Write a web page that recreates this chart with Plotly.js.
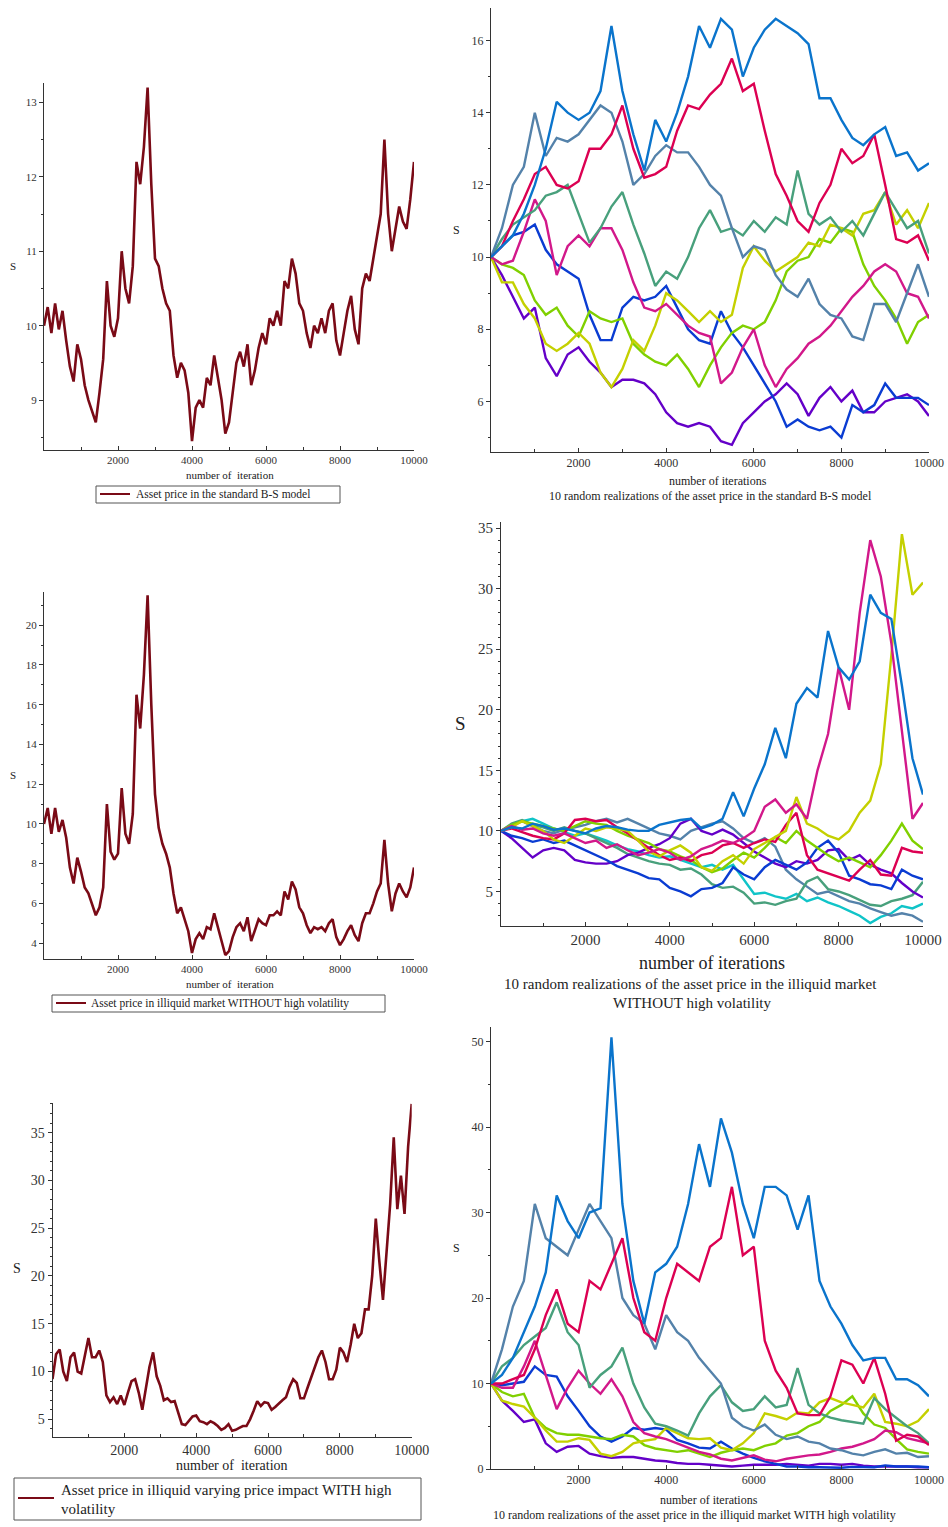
<!DOCTYPE html>
<html>
<head>
<meta charset="utf-8">
<script src="https://cdn.plot.ly/plotly-3.0.1.min.js"></script>
<style>
html,body{margin:0;padding:0;background:#fff;}
#chart{width:948px;height:1527px;}
</style>
</head>
<body>
<div id="chart"></div>
<script>
// ---------- iteration grids ----------
const iterFine = [0,100,200,300,400,500,600,700,800,900,1000,1100,1200,1300,1400,1500,1600,1700,1800,1900,
  2000,2100,2200,2300,2400,2500,2600,2700,2800,2900,3000,3100,3200,3300,3400,3500,3600,3700,3800,3900,
  4000,4100,4200,4300,4400,4500,4600,4700,4800,4900,5000,5100,5200,5300,5400,5500,5600,5700,5800,5900,
  6000,6100,6200,6300,6400,6500,6600,6700,6800,6900,7000,7100,7200,7300,7400,7500,7600,7700,7800,7900,
  8000,8100,8200,8300,8400,8500,8600,8700,8800,8900,9000,9100,9200,9300,9400,9500,9600,9700,9800,9900,10000];
const iterCoarse = [0,250,500,750,1000,1250,1500,1750,2000,2250,2500,2750,3000,3250,3500,3750,4000,4250,4500,4750,
  5000,5250,5500,5750,6000,6250,6500,6750,7000,7250,7500,7750,8000,8250,8500,8750,9000,9250,9500,9750,10000];
const xTickVals = [2000,4000,6000,8000,10000];
const xTickText = ['2000','4000','6000','8000','10000'];

// ---------- single paths (left column) ----------
const priceBS = [10.0,10.25,9.9,10.3,9.95,10.2,9.8,9.45,9.25,9.75,9.55,9.2,9.0,8.85,8.7,9.1,9.55,10.6,10.0,9.85,
  10.1,11.0,10.5,10.3,10.8,12.2,11.9,12.4,13.2,11.9,10.9,10.8,10.5,10.3,10.2,9.6,9.3,9.5,9.4,9.1,
  8.45,8.9,9.0,8.9,9.3,9.2,9.6,9.3,9.0,8.55,8.7,9.1,9.5,9.65,9.45,9.75,9.2,9.4,9.7,9.9,
  9.75,10.1,10.0,10.2,10.0,10.6,10.5,10.9,10.7,10.3,10.2,9.9,9.7,10.0,9.9,10.1,9.9,10.2,10.3,9.8,
  9.6,9.9,10.2,10.4,9.95,9.75,10.5,10.7,10.6,10.9,11.2,11.5,12.5,11.5,11.0,11.3,11.6,11.4,11.3,11.7,12.2];
const priceIlliquid = [10.0,10.8,9.5,10.8,9.6,10.2,9.3,7.8,7.0,8.3,7.6,6.8,6.5,6.0,5.4,5.8,6.8,11.0,8.6,8.2,
  8.5,11.8,9.5,9.0,10.5,16.5,14.8,17.5,21.5,16.0,11.5,9.8,9.0,8.5,7.8,6.5,5.5,5.8,5.2,4.6,
  3.5,4.2,4.5,4.2,4.8,4.7,5.5,4.8,4.0,3.4,3.6,4.3,4.8,5.0,4.6,5.3,4.1,4.6,5.2,5.0,
  4.9,5.4,5.4,5.6,5.4,6.6,6.2,7.1,6.7,5.8,5.5,4.9,4.5,4.8,4.7,4.8,4.6,5.0,5.2,4.3,
  3.9,4.2,4.6,4.9,4.4,4.1,5.0,5.5,5.5,6.0,6.6,7.0,9.2,7.0,5.6,6.5,7.0,6.6,6.3,6.8,7.8];
const priceHighVol = [9.2,11.8,12.3,10.0,9.0,11.5,12.0,10.0,9.8,11.8,13.5,11.5,11.5,12.2,11.0,7.5,6.8,7.3,6.6,7.5,
  6.5,7.8,9.0,9.2,7.8,6.0,8.3,10.5,12.0,9.5,8.5,7.0,7.2,6.8,6.9,5.8,4.5,4.4,4.8,5.3,
  5.4,4.8,4.7,4.5,4.8,4.6,4.3,3.9,4.1,4.5,3.8,3.9,4.1,4.3,4.3,5.0,5.9,6.9,6.4,6.8,
  6.7,6.0,6.3,6.6,7.0,7.3,8.4,9.2,8.8,7.2,7.2,8.3,9.3,10.4,11.5,12.2,11.0,9.2,9.2,10.2,
  12.5,12.0,11.0,12.8,15.0,13.5,14.0,16.5,16.5,20.0,26.0,21.5,17.5,22.5,27.5,34.5,27.0,30.5,26.5,33.5,38.0];

// ---------- 10 realizations, standard B-S ----------
const bsBlue    = [10.0,10.3,10.6,11.2,12.0,13.0,14.3,14.0,13.8,14.0,14.6,16.4,14.6,13.4,12.4,13.8,13.2,14.0,15.0,16.4,15.8,16.6,16.3,15.0,15.8,16.3,16.6,16.4,16.2,15.9,14.4,14.4,13.8,13.3,13.1,13.4,13.6,12.8,12.9,12.4,12.6];
const bsCrimson = [10.0,10.3,11.0,11.6,12.3,12.5,12.0,11.9,12.1,13.0,13.0,13.4,14.2,13.0,12.2,12.3,12.5,13.5,14.2,14.1,14.5,14.8,15.5,14.6,14.8,13.5,12.3,11.7,11.0,10.7,11.5,12.0,13.0,12.6,12.8,13.4,12.0,10.5,10.4,10.6,9.9];
const bsSteel   = [10.0,10.8,12.0,12.5,14.0,12.8,13.3,13.2,13.4,13.8,14.2,14.0,13.2,12.0,12.3,12.8,13.1,12.9,12.9,12.5,12.0,11.7,10.8,10.0,10.3,10.2,9.5,9.1,8.9,9.4,8.7,8.4,8.3,7.8,7.7,8.7,8.7,8.2,9.0,9.8,8.9];
const bsTeal    = [10.0,10.5,10.9,11.1,11.3,11.7,11.8,12.0,11.2,10.4,10.8,11.4,11.8,10.9,10.1,9.2,9.6,9.4,10.0,10.8,11.3,10.7,10.8,10.6,11.0,10.7,11.1,10.9,12.4,11.2,10.9,11.1,10.7,11.0,10.6,11.2,11.8,11.3,10.8,11.0,10.1];
const bsPink    = [10.0,9.8,9.9,10.7,11.6,11.0,9.5,10.3,10.6,10.3,10.8,10.8,10.2,9.3,8.6,8.5,8.7,8.4,8.1,7.9,7.8,6.5,6.8,7.5,8.0,7.0,6.4,6.9,7.2,7.6,7.8,8.1,8.5,8.9,9.2,9.6,9.8,9.6,9.0,8.9,8.3];
const bsYellow  = [10.0,9.3,9.3,8.7,8.3,7.6,7.4,7.6,7.9,7.6,6.8,6.4,6.9,7.7,7.4,8.1,9.0,8.8,8.5,8.2,8.5,8.2,8.4,9.7,10.3,9.9,9.6,9.8,10.0,10.4,10.3,10.9,10.8,10.6,11.2,11.3,11.8,10.9,11.3,10.8,11.5];
const bsLime    = [10.0,9.8,9.7,9.5,8.8,8.4,8.6,8.1,7.8,8.5,8.3,8.2,8.3,7.6,7.3,7.1,7.0,7.3,6.9,6.4,7.0,7.5,7.9,8.1,8.0,8.2,8.8,9.6,9.9,10.0,10.5,10.4,10.8,10.7,9.8,9.2,8.8,8.3,7.6,8.2,8.4];
const bsDeep    = [10.0,10.3,10.6,10.7,10.9,10.2,9.8,9.6,9.4,8.4,7.7,7.7,8.6,8.9,8.8,8.9,9.2,8.6,8.0,7.7,7.6,8.5,7.9,7.5,7.0,6.5,6.0,5.3,5.5,5.3,5.2,5.3,5.0,5.9,5.7,5.9,6.5,6.1,6.1,6.1,5.9];
const bsPurple  = [10.0,9.5,8.9,8.3,8.6,7.2,6.7,7.3,7.5,7.1,6.8,6.4,6.6,6.6,6.5,6.2,5.7,5.4,5.3,5.4,5.3,4.9,4.8,5.4,5.7,6.0,6.2,6.5,6.2,5.6,6.1,6.4,6.0,6.3,5.7,5.7,6.0,6.1,6.2,6.0,5.6];

// ---------- 10 realizations, illiquid market WITHOUT high volatility ----------
const ilBlue    = [10.0,10.3,10.2,10.6,10.4,10.1,10.2,10.0,9.8,10.2,10.4,10.3,10.1,10.0,10.0,10.5,10.7,10.9,11.0,10.2,10.5,11.0,13.2,11.2,13.5,15.5,18.5,16.0,20.5,21.8,21.0,26.5,23.5,22.5,24.0,29.5,28.0,27.5,22.0,16.0,13.0];
const ilMagenta = [10.0,10.4,10.1,10.2,9.8,9.6,9.8,9.4,9.0,9.2,8.6,8.9,8.4,8.0,8.2,8.5,8.2,7.6,7.9,8.5,8.8,9.2,9.0,9.4,10.0,12.0,12.6,11.5,12.2,11.0,15.0,18.0,23.5,20.0,28.0,34.0,31.0,25.5,18.0,11.0,12.3];
const ilYellow  = [10.0,10.3,10.8,10.4,10.0,9.3,9.0,9.6,10.2,10.0,10.3,10.2,10.0,9.2,8.3,7.9,8.4,8.8,8.2,7.0,6.7,7.5,8.0,7.3,8.5,9.0,9.5,10.0,12.8,10.6,10.2,9.6,9.3,10.0,11.5,12.5,15.5,24.5,34.5,29.5,30.5];
const ilCrimson = [10.0,10.2,9.9,9.6,9.4,9.3,9.8,10.9,11.0,10.8,10.9,10.3,9.8,9.2,8.6,8.0,7.6,7.8,7.5,8.0,8.2,8.8,9.0,8.6,9.0,9.3,9.1,10.5,11.5,8.0,6.8,6.5,6.2,5.9,6.8,7.6,6.4,6.3,8.6,8.3,8.2];
const ilLime    = [10.0,10.5,10.8,10.6,10.4,10.2,10.0,10.4,10.8,10.6,10.5,10.0,9.6,9.3,9.0,8.5,8.3,7.9,7.6,7.0,6.6,6.9,7.6,8.2,7.8,8.6,9.5,9.0,10.0,9.2,8.6,8.0,7.5,7.8,7.4,7.0,8.0,9.2,10.6,9.2,8.5];
const ilDeep    = [10.0,9.6,9.4,9.1,9.3,9.0,9.2,8.8,8.4,8.0,7.6,7.1,6.8,6.5,6.1,6.0,5.3,5.0,4.6,5.2,5.3,5.7,7.0,6.4,6.0,7.0,7.6,7.2,6.8,7.4,8.6,9.2,8.2,6.3,6.0,5.6,5.5,5.2,6.8,6.3,6.0];
const ilPurple  = [10.0,9.4,8.6,7.8,8.4,8.6,8.4,7.6,7.4,7.3,7.3,7.5,8.0,8.2,8.6,8.9,9.4,10.6,11.0,10.0,9.7,10.1,9.7,9.0,8.3,7.8,7.3,7.0,7.5,7.3,7.6,8.4,8.5,7.6,8.0,7.2,6.8,6.5,5.7,5.0,4.5];
const ilTeal    = [10.0,10.6,10.9,10.5,10.3,10.0,10.3,10.0,9.8,9.4,9.0,8.6,8.1,7.8,7.5,7.3,7.2,6.8,6.9,6.4,5.6,5.3,5.4,4.9,4.0,4.1,3.9,4.2,4.4,5.8,6.2,5.2,5.0,4.7,4.3,3.9,3.8,4.2,4.4,4.7,5.8];
const ilSteel   = [10.0,10.4,10.8,10.4,10.0,9.8,10.1,10.3,10.5,10.8,11.0,10.7,11.0,10.6,10.2,9.8,9.6,9.3,10.0,10.3,10.6,10.8,10.2,9.4,9.0,9.4,8.7,6.8,6.0,5.4,4.8,5.0,4.6,4.2,4.0,3.6,3.3,3.0,3.2,3.0,2.5];
const ilCyan    = [10.0,10.5,10.8,11.0,10.6,10.2,9.9,9.6,9.8,9.5,9.2,8.8,8.5,8.3,8.0,7.8,7.9,7.6,7.3,7.0,7.2,6.8,7.2,6.0,4.8,4.9,4.6,4.4,4.8,4.2,4.5,4.1,3.8,3.4,3.0,2.4,2.9,3.2,3.8,3.6,4.0];

// ---------- 10 realizations, illiquid market WITH high volatility ----------
const hvBlue    = [10,11,13,16,19,23,32,29,27,30,30.5,50.5,31,22,17,23,24,26,31,38,33,41,37,31,27,33,33,32,28,32,22,19,17,14.5,12.7,13,13,10.5,10.5,9.8,8.5];
const hvSteel   = [10,14,19,22,31,27,26,25,28,31,29,27,20,18,17,14,18,16,15,13,11.5,10,6,5,4.5,5.2,4,3.5,3.8,3.2,3.0,2.4,2.2,1.8,1.6,2.0,2.3,1.8,1.9,1.4,1.5];
const hvCrimson = [10,10,10.5,11,14,18,21,17,16,22,21,24,27,20,16,15,20,24,23,22,26,27,33,25,26,15,11.5,9.5,6.5,6.3,6.3,8.5,12.7,12.2,10,13,8.8,3.3,4.0,3.8,2.8];
const hvTeal    = [10,12,13,14.5,15.5,16.5,19.5,16,14.5,9.5,11,12,14.2,10,7.2,5.3,5.0,4.5,3.9,6.5,8.5,9.8,7.8,6.8,7.0,8.5,7.2,7.5,11.8,7.5,6.5,6.0,5.7,5.5,5.3,8.3,7.0,6.0,5.0,4.2,3.0];
const hvPink    = [10,9.5,9.5,12,15,11,7,9.5,11.5,10,8.8,10.5,8.5,5.5,4.2,3.8,3.5,3.0,2.5,2.0,1.7,1.2,1.0,1.3,1.6,1.1,0.9,1.2,1.4,1.6,1.7,2.0,2.4,2.6,3.0,3.5,4.5,4.3,3.6,3.3,3.0];
const hvYellow  = [10,8.0,7.6,7.3,6.0,4.5,3.2,3.2,3.6,3.4,1.8,1.5,2.0,3.0,3.3,3.5,4.8,4.2,3.6,3.5,3.6,2.5,2.2,3.0,4.2,6.5,6.2,5.8,6.6,6.5,7.8,8.3,7.8,7.5,7.2,8.8,5.5,5.3,5.0,5.6,7.0];
const hvLime    = [10,9.0,8.5,8.8,6.0,4.8,4.2,4.0,4.0,3.8,3.6,3.5,4.0,3.8,2.8,2.4,2.2,2.0,2.2,1.8,1.4,1.9,2.2,2.4,2.2,2.7,3.0,3.9,4.2,5.0,5.5,6.8,7.5,8.5,6.5,5.2,4.8,3.5,2.3,2.0,1.8];
const hvDeep    = [10,9.8,10,10.2,12,11,10.8,8.5,6.8,5.0,3.8,3.2,3.8,4.8,4.6,4.8,4.6,3.4,3.0,2.5,2.4,3.2,2.4,1.8,1.3,0.9,0.6,0.3,0.3,0.2,0.2,0.2,0.15,0.25,0.2,0.2,0.4,0.3,0.3,0.3,0.2];
const hvPurple  = [10,8.0,6.8,5.5,5.8,3.0,2.0,2.6,2.7,1.8,1.5,1.3,1.4,1.4,1.2,1.0,0.9,0.7,0.6,0.6,0.5,0.4,0.3,0.4,0.5,0.5,0.5,0.6,0.5,0.4,0.6,0.6,0.5,0.6,0.4,0.3,0.3,0.3,0.3,0.2,0.2];

// ---------- text ----------
const legendBS   = 'Asset price in the standard B-S model';
const legendIl   = 'Asset price in illiquid market WITHOUT high volatility';
const legendHv1  = 'Asset price in illiquid varying price impact WITH high';
const legendHv2  = 'volatility';
const captionBS  = '10 random realizations of the asset price in the standard B-S model';
const captionIl1 = '10 random realizations of the asset price in the illiquid market';
const captionIl2 = 'WITHOUT high volatility';
const captionHv  = '10 random realizations of the asset price in the illiquid market WITH high volatility';
const xTitleOne  = 'number of  iteration';
const xTitleMany = 'number of iterations';

// ---------- colours ----------
const C = {
  maroon:'#7a0a16', blue:'#0a74cc', crimson:'#dc0052', steel:'#5482aa', teal:'#48a07c',
  pink:'#d2188a', yellow:'#c4d000', lime:'#80d000', deep:'#0a3cd2', purple:'#6400c8', cyan:'#10c4c8'
};

// ---------- geometry ----------
const W = 948, H = 1527;
const FONT = 'Liberation Serif, Times New Roman, serif';
const fx = p => p / W;
const fy = p => 1 - p / H;

// x0/x1: pixel span of the x range, yt/yb: pixel top/bottom of the plot area
const panels = [
  {x0:44,  x1:414, yt:83,   yb:450,  yr:[8.33,13.26], t0:9, dt:1,  mdt:0.5, fs:11},
  {x0:491, x1:929, yt:8,    yb:452,  yr:[4.6,16.9],   t0:0, dt:2,  mdt:1,   fs:12},
  {x0:44,  x1:414, yt:592,  yb:959,  yr:[3.2,21.67],  t0:0, dt:2,  mdt:1,   fs:11},
  {x0:501, x1:923, yt:522,  yb:926,  yr:[2.15,35.5],  t0:0, dt:5,  mdt:1,   fs:15},
  {x0:52.5,x1:411.7,yt:1103,yb:1437, yr:[3.15,38.1],  t0:0, dt:5,  mdt:1,   fs:14},
  {x0:491, x1:929, yt:1027, yb:1469, yr:[0,51.7],     t0:0, dt:10, mdt:5,   fs:12}
];

const layout = {
  width: W, height: H, autosize: false,
  margin: {l:0, r:0, t:0, b:0},
  paper_bgcolor: '#fff', plot_bgcolor: '#fff',
  showlegend: false,
  font: {family: FONT, color: '#222'},
  annotations: [], shapes: []
};

panels.forEach((p, i) => {
  const n = i === 0 ? '' : String(i + 1);
  layout['xaxis' + n] = {
    domain: [fx(p.x0), fx(p.x1)], range: [0, 10000], anchor: 'y' + n,
    showgrid: false, zeroline: false, showline: true, linecolor: '#333', linewidth: 1,
    ticks: 'inside', ticklen: 4, tickcolor: '#333',
    tickmode: 'array', tickvals: xTickVals, ticktext: xTickText,
    tickfont: {family: FONT, size: p.fs, color: '#333'},
    minor: {tickmode: 'linear', tick0: 0, dtick: 1000, ticks: 'inside', ticklen: 3, tickcolor: '#333'},
    fixedrange: true
  };
  layout['yaxis' + n] = {
    domain: [fy(p.yb), fy(p.yt)], range: p.yr, anchor: 'x' + n,
    showgrid: false, zeroline: false, showline: true, linecolor: '#333', linewidth: 1,
    ticks: 'outside', ticklen: 4, tickcolor: '#333',
    tickmode: 'linear', tick0: p.t0, dtick: p.dt,
    tickfont: {family: FONT, size: p.fs, color: '#333'},
    minor: {tickmode: 'linear', tick0: p.t0, dtick: p.mdt, ticks: 'outside', ticklen: 2, tickcolor: '#333'},
    fixedrange: true
  };
});

// ---------- traces ----------
const traces = [];
function addLine(xs, ys, color, panelIndex, width) {
  const n = panelIndex === 0 ? '' : String(panelIndex + 1);
  traces.push({
    type: 'scatter', mode: 'lines', x: xs, y: ys,
    xaxis: 'x' + n, yaxis: 'y' + n,
    line: {color: color, width: width, shape: 'linear'},
    hoverinfo: 'skip'
  });
}

addLine(iterFine, priceBS, C.maroon, 0, 2.6);
addLine(iterFine, priceIlliquid, C.maroon, 2, 2.6);
addLine(iterFine, priceHighVol, C.maroon, 4, 2.6);

[[bsPurple,C.purple],[bsDeep,C.deep],[bsLime,C.lime],[bsYellow,C.yellow],[bsPink,C.pink],
 [bsTeal,C.teal],[bsSteel,C.steel],[bsCrimson,C.crimson],[bsBlue,C.blue]]
  .forEach(([ys, c]) => addLine(iterCoarse, ys, c, 1, 2.4));

[[ilCyan,C.cyan],[ilSteel,C.steel],[ilTeal,C.teal],[ilPurple,C.purple],[ilDeep,C.deep],
 [ilLime,C.lime],[ilCrimson,C.crimson],[ilYellow,C.yellow],[ilMagenta,C.pink],[ilBlue,C.blue]]
  .forEach(([ys, c]) => addLine(iterCoarse, ys, c, 3, 2.4));

[[hvPurple,C.purple],[hvDeep,C.deep],[hvLime,C.lime],[hvYellow,C.yellow],[hvPink,C.pink],
 [hvTeal,C.teal],[hvSteel,C.steel],[hvCrimson,C.crimson],[hvBlue,C.blue]]
  .forEach(([ys, c]) => addLine(iterCoarse, ys, c, 5, 2.4));

// ---------- labels ----------
function note(text, px, py, size, xanchor) {
  layout.annotations.push({
    xref: 'paper', yref: 'paper', x: fx(px), y: fy(py),
    text: text, showarrow: false, xanchor: xanchor || 'center', yanchor: 'middle',
    font: {family: FONT, size: size, color: '#222'}
  });
}

// axis symbol S
note('S', 13, 266, 11);
note('S', 456, 230, 12);
note('S', 13, 775, 11);
note('S', 460, 723, 19);
note('S', 17, 1268, 14);
note('S', 456, 1248, 12);

// x-axis titles
note(xTitleOne, 230, 475, 11);
note(xTitleMany, 718, 481, 12);
note(xTitleOne, 230, 984, 11);
note(xTitleMany, 712, 963, 18);
note(xTitleOne, 232, 1465, 14);
note(xTitleMany, 709, 1500, 12);

// captions under the right column
note(captionBS, 710, 496, 12);
note(captionIl1, 690, 984, 15);
note(captionIl2, 692, 1003, 15);
note(captionHv, 694, 1515, 12);

// boxed legends under the left column
function legendBox(x0, y0, x1, y1, lx0, lx1, ly) {
  layout.shapes.push({type: 'rect', xref: 'paper', yref: 'paper',
    x0: fx(x0), x1: fx(x1), y0: fy(y1), y1: fy(y0),
    line: {color: '#555', width: 1}, fillcolor: 'rgba(0,0,0,0)'});
  layout.shapes.push({type: 'line', xref: 'paper', yref: 'paper',
    x0: fx(lx0), x1: fx(lx1), y0: fy(ly), y1: fy(ly),
    line: {color: C.maroon, width: 2}});
}
legendBox(96, 486, 340, 503, 100, 130, 494);
note(legendBS, 134, 494, 11.5, 'left');
legendBox(52, 995, 385, 1012, 56, 86, 1003);
note(legendIl, 89, 1003, 11.5, 'left');
legendBox(14, 1478, 421, 1520, 18, 54, 1498);
note(legendHv1, 59, 1490, 15, 'left');
note(legendHv2, 59, 1509, 15, 'left');

Plotly.newPlot('chart', traces, layout, {staticPlot: true, displayModeBar: false});
</script>
</body>
</html>
